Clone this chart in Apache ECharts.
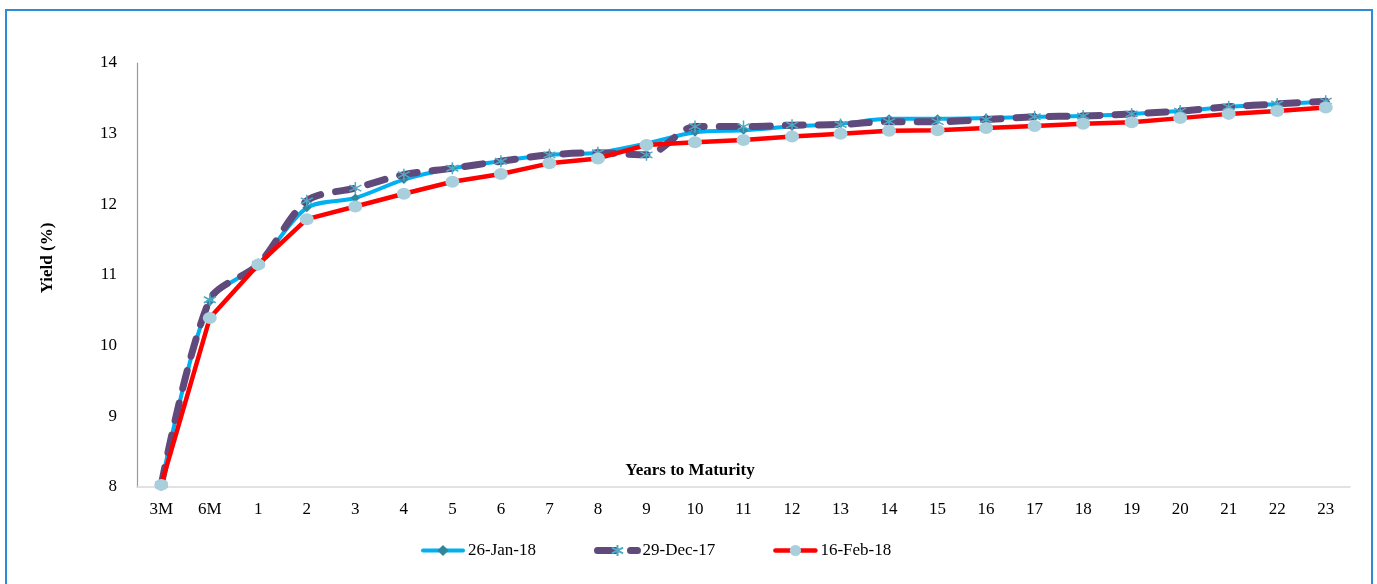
<!DOCTYPE html>
<html>
<head>
<meta charset="utf-8">
<script src="https://cdn.jsdelivr.net/npm/echarts@6/dist/echarts.min.js"></script>
<style>html,body{margin:0;padding:0;background:#fff;}#c{width:1377px;height:584px;}</style>
</head>
<body>
<div id="c"></div>
<script>
const categories = ['3M','6M','1','2','3','4','5','6','7','8','9','10','11','12','13','14','15','16','17','18','19','20','21','22','23'];
const jan26 = [8.03,10.62,11.15,11.95,12.09,12.35,12.51,12.61,12.70,12.73,12.86,13.02,13.05,13.10,13.14,13.21,13.21,13.22,13.24,13.25,13.28,13.32,13.38,13.42,13.45];
const dec29 = [8.03,10.65,11.15,12.05,12.23,12.42,12.51,12.61,12.70,12.73,12.70,13.10,13.10,13.12,13.13,13.17,13.17,13.20,13.24,13.25,13.28,13.32,13.38,13.42,13.46];
const feb16 = [8.03,10.39,11.15,11.79,11.97,12.15,12.32,12.43,12.58,12.65,12.84,12.88,12.91,12.96,13.00,13.04,13.05,13.08,13.11,13.14,13.16,13.22,13.28,13.32,13.37];
const seriesNames = ['26-Jan-18','29-Dec-17','16-Feb-18'];
const yTicks = {min: 8, max: 14, interval: 1};

const font = '"Liberation Serif", "Times New Roman", serif';
const chart = echarts.init(document.getElementById('c'));
const star = 'path://M0,-10L0,10M-8.66,-5L8.66,5M-8.66,5L8.66,-5';
chart.setOption({
  animation: false,
  backgroundColor: '#fff',
  grid: {left: 137, right: 27, top: 63, bottom: 97},
  legend: {
    left: 416, top: 537,
    itemWidth: 40, itemHeight: 14, itemGap: 58,
    lineStyle: {width: 'inherit', cap: 'round'},
    textStyle: {fontFamily: font, fontSize: 17, color: '#000', padding: [0, 0, 0, 0]},
    data: seriesNames
  },
  xAxis: {
    type: 'category', data: categories, boundaryGap: true,
    axisLine: {lineStyle: {color: '#D9D9D9', width: 1.5}},
    axisTick: {show: false},
    axisLabel: {fontFamily: font, fontSize: 17, color: '#000', margin: 14, interval: 0}
  },
  yAxis: {
    type: 'value', min: yTicks.min, max: yTicks.max, interval: yTicks.interval,
    splitLine: {show: false},
    axisLine: {show: true, lineStyle: {color: '#9A9A9A', width: 1.2}},
    axisTick: {show: false},
    axisLabel: {fontFamily: font, fontSize: 17, color: '#000', margin: 20}
  },
  graphic: [
    {type: 'rect', shape: {x: 6, y: 10, width: 1366, height: 600}, style: {fill: 'none', stroke: '#2E8BD6', lineWidth: 2}, silent: true},
    {type: 'text', x: 690, y: 471, style: {text: 'Years to Maturity', font: 'bold 17px ' + font, fill: '#000', align: 'center', verticalAlign: 'middle'}},
    {type: 'text', x: 48, y: 258, rotation: Math.PI / 2, style: {text: 'Yield (%)', font: 'bold 17px ' + font, fill: '#000', align: 'center', verticalAlign: 'middle'}}
  ],
  series: [
    {
      name: seriesNames[0], type: 'line', data: jan26, smooth: 0.3,
      lineStyle: {color: '#00B0F0', width: 4, cap: 'round'},
      symbol: 'diamond', symbolSize: 9,
      itemStyle: {color: '#31859C'}, z: 2
    },
    {
      name: seriesNames[1], type: 'line', data: dec29, smooth: 0.3,
      lineStyle: {color: '#604A7B', width: 7, type: [18, 15], cap: 'round'},
      symbol: star, symbolSize: 12,
      itemStyle: {color: 'transparent', borderColor: '#4BACC6', borderWidth: 1.5}, z: 3
    },
    {
      name: seriesNames[2], type: 'line', data: feb16, smooth: false,
      lineStyle: {color: '#FF0000', width: 4.5, cap: 'round'},
      symbol: 'circle', symbolSize: [14, 12],
      itemStyle: {color: '#A9CEDC'}, z: 4
    }
  ]
});
</script>
</body>
</html>
